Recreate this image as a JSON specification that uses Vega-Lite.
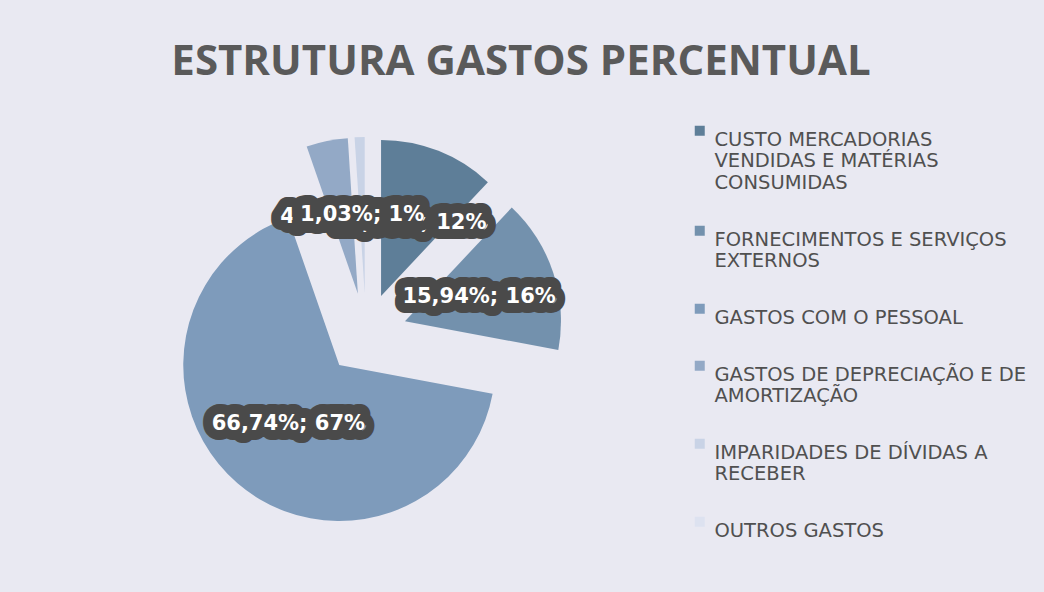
{
  "$schema": "https://vega.github.io/schema/vega-lite/v6.json",
  "width": 532,
  "height": 468,
  "padding": {"left": 100, "top": 100, "right": 412, "bottom": 24},
  "autosize": {"type": "none"},
  "background": "#e9e9f2",
  "title": {
    "text": "ESTRUTURA GASTOS PERCENTUAL",
    "font": "Open Sans",
    "fontSize": 42,
    "fontWeight": "bold",
    "color": "#5a5a5a",
    "anchor": "middle",
    "dx": 155,
    "offset": 16
  },
  "data": {
    "values": [
      {"ord": 1, "name": "CUSTO MERCADORIAS VENDIDAS E MATÉRIAS CONSUMIDAS", "value": 12.0, "label": "12,00%; 12%"},
      {"ord": 2, "name": "FORNECIMENTOS E SERVIÇOS EXTERNOS", "value": 15.94, "label": "15,94%; 16%"},
      {"ord": 3, "name": "GASTOS COM O PESSOAL", "value": 66.74, "label": "66,74%; 67%"},
      {"ord": 4, "name": "GASTOS DE DEPRECIAÇÃO E DE AMORTIZAÇÃO", "value": 4.29, "label": "4,29%; 4%"},
      {"ord": 5, "name": "IMPARIDADES DE DÍVIDAS A RECEBER", "value": 1.03, "label": "1,03%; 1%"},
      {"ord": 6, "name": "OUTROS GASTOS", "value": 0, "label": ""}
    ]
  },
  "encoding": {
    "theta": {"field": "value", "type": "quantitative", "stack": true},
    "order": {"field": "ord", "type": "quantitative", "sort": "ascending"}
  },
  "layer": [
    {
      "mark": {
        "type": "arc",
        "outerRadius": 156,
        "xOffset": {"expr": "41*sin(PI*(datum.value_start+datum.value_end)/100)"},
        "yOffset": {"expr": "-41*cos(PI*(datum.value_start+datum.value_end)/100)"}
      },
      "encoding": {
        "color": {
          "field": "name",
          "type": "nominal",
          "sort": null,
          "scale": {
            "domain": [
              "CUSTO MERCADORIAS VENDIDAS E MATÉRIAS CONSUMIDAS",
              "FORNECIMENTOS E SERVIÇOS EXTERNOS",
              "GASTOS COM O PESSOAL",
              "GASTOS DE DEPRECIAÇÃO E DE AMORTIZAÇÃO",
              "IMPARIDADES DE DÍVIDAS A RECEBER",
              "OUTROS GASTOS"
            ],
            "range": ["#5e7e98", "#7391ad", "#7e9bbb", "#93a9c6", "#c9d3e6", "#dde2f0"]
          },
          "legend": {
            "title": null,
            "orient": "none",
            "legendX": 590,
            "legendY": 21,
            "symbolType": "square",
            "symbolSize": 100,
            "symbolStrokeWidth": 0,
            "labelFont": "DejaVu Sans",
            "labelFontSize": 19.5,
            "labelColor": "#505050",
            "labelLimit": 400,
            "labelBaseline": "top",
            "labelLineHeight": 26,
            "rowPadding": 28,
            "labelOffset": 5,
            "labelExpr": "datum.label == 'CUSTO MERCADORIAS VENDIDAS E MATÉRIAS CONSUMIDAS' ? ['CUSTO MERCADORIAS', 'VENDIDAS E MATÉRIAS', 'CONSUMIDAS'] : datum.label == 'FORNECIMENTOS E SERVIÇOS EXTERNOS' ? ['FORNECIMENTOS E SERVIÇOS', 'EXTERNOS'] : datum.label == 'GASTOS DE DEPRECIAÇÃO E DE AMORTIZAÇÃO' ? ['GASTOS DE DEPRECIAÇÃO E DE', 'AMORTIZAÇÃO'] : datum.label == 'IMPARIDADES DE DÍVIDAS A RECEBER' ? ['IMPARIDADES DE DÍVIDAS A', 'RECEBER'] : datum.label"
          }
        }
      }
    },
    {
      "mark": {"type": "text", "radius": 119, "font": "DejaVu Sans", "fontWeight": "bold", "fontSize": 21, "fill": "#4a4a4a", "stroke": "#4a4a4a", "strokeWidth": 20, "strokeJoin": "round", "strokeCap": "round"},
      "encoding": {
        "text": {"condition": {"test": "datum.name !== 'IMPARIDADES DE DÍVIDAS A RECEBER'", "field": "label"}, "value": ""}
      }
    },
    {
      "mark": {"type": "text", "radius": 119, "font": "DejaVu Sans", "fontWeight": "bold", "fontSize": 21, "fill": "#ffffff"},
      "encoding": {
        "text": {"condition": {"test": "datum.name !== 'IMPARIDADES DE DÍVIDAS A RECEBER'", "field": "label"}, "value": ""}
      }
    },
    {
      "mark": {"type": "text", "radius": 119, "font": "DejaVu Sans", "fontWeight": "bold", "fontSize": 21, "fill": "#4a4a4a", "stroke": "#4a4a4a", "strokeWidth": 20, "strokeJoin": "round", "strokeCap": "round"},
      "encoding": {
        "text": {"condition": {"test": "datum.name === 'IMPARIDADES DE DÍVIDAS A RECEBER'", "field": "label"}, "value": ""}
      }
    },
    {
      "mark": {"type": "text", "radius": 119, "font": "DejaVu Sans", "fontWeight": "bold", "fontSize": 21, "fill": "#ffffff"},
      "encoding": {
        "text": {"condition": {"test": "datum.name === 'IMPARIDADES DE DÍVIDAS A RECEBER'", "field": "label"}, "value": ""}
      }
    }
  ]
}
